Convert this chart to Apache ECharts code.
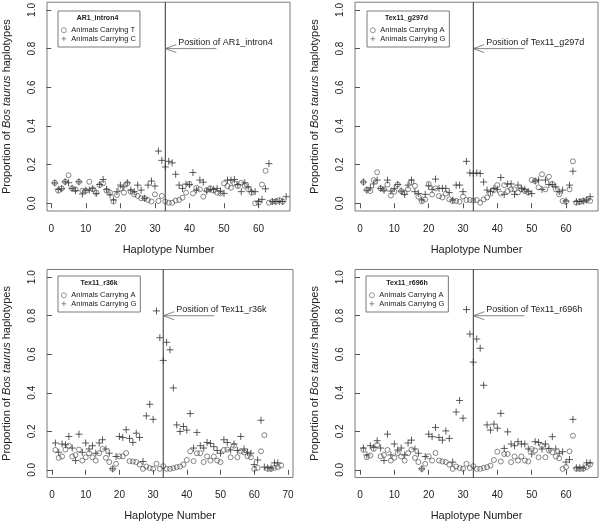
<!DOCTYPE html>
<html>
<head>
<meta charset="utf-8">
<script src="https://cdn.jsdelivr.net/npm/echarts@6/dist/echarts.min.js"></script>
<style>html,body{margin:0;padding:0;background:#fff;}#c{width:600px;height:523px;}</style>
</head>
<body>
<div id="c"></div>
<script>
// ---- data ----
const markerNames = ['AR1_intron4', 'Tex11_g297d', 'Tex11_r36k', 'Tex11_r696h'];
const circleNames = ['Animals Carrying T', 'Animals Carrying A', 'Animals Carrying A', 'Animals Carrying A'];
const plusNames = ['Animals Carrying C', 'Animals Carrying G', 'Animals Carrying G', 'Animals Carrying G'];
const markerPos = 33;      // haplotype number of the marker
const arrowY = 0.8;        // height of the arrow
const xTicks = [[0,10,20,30,40,50,60],[0,10,20,30,40,50,60],[0,10,20,30,40,50,60,70],[0,10,20,30,40,50,60]];
const yTicks = [0, 0.2, 0.4, 0.6, 0.8, 1.0];

const ar1Circle = [0.106,0.065,0.077,0.111,0.145,0.077,0.072,0.111,0.065,0.065,
 0.111,0.072,0.055,0.094,0.103,0.065,0.056,0.009,0.043,0.077,
 0.055,0.103,0.060,0.046,0.038,0.026,0.026,0.017,0.009,0.046,
 0.012,0.038,0.009,0.003,0.003,0.014,0.017,0.029,0.055,0.100,
 0.051,0.080,0.072,0.034,0.068,0.077,0.065,0.055,0.051,0.103,
 0.089,0.080,0.103,0.089,0.106,0.091,0.072,0.055,0.000,0.003,
 0.097,0.168,0.003,0.009,0.009,0.017,0.009];
const ar1Plus = [0.105,0.072,0.075,0.111,0.106,0.077,0.065,0.111,0.048,0.068,
 0.068,0.077,0.051,0.097,0.123,0.072,0.043,0.017,0.060,0.094,
 0.085,0.106,0.068,0.060,0.094,0.068,0.026,0.094,0.115,0.089,
 0.270,0.222,0.188,0.217,0.209,0.150,0.094,0.077,0.099,0.097,
 0.159,0.068,0.120,0.109,0.063,0.072,0.072,0.077,0.063,0.051,
 0.120,0.120,0.123,0.097,0.060,0.106,0.085,0.060,0.060,0.009,
 0.020,0.075,0.205,0.009,0.009,0.009,0.009,0.034];
const g297dCircle = [0.110,0.070,0.063,0.120,0.160,0.077,0.072,0.097,0.040,0.060,
 0.097,0.063,0.055,0.073,0.110,0.090,0.035,0.010,0.020,0.100,
 0.045,0.077,0.037,0.030,0.050,0.020,0.012,0.012,0.008,0.035,
 0.017,0.017,0.014,0.017,0.003,0.020,0.030,0.050,0.068,0.094,
 0.050,0.094,0.063,0.072,0.072,0.056,0.072,0.063,0.055,0.120,
 0.116,0.082,0.150,0.072,0.137,0.100,0.072,0.046,0.012,0.008,
 0.072,0.217,0.003,0.008,0.012,0.017,0.012];
const g297dPlus = [0.110,0.068,0.080,0.100,0.120,0.077,0.068,0.120,0.063,0.077,
 0.097,0.063,0.046,0.094,0.120,0.060,0.051,0.017,0.046,0.090,
 0.072,0.125,0.077,0.077,0.077,0.055,0.017,0.094,0.094,0.060,
 0.217,0.157,0.154,0.157,0.154,0.110,0.068,0.060,0.077,0.072,
 0.133,0.046,0.100,0.100,0.046,0.094,0.077,0.072,0.060,0.050,
 0.115,0.120,0.072,0.120,0.097,0.097,0.085,0.060,0.068,0.012,
 0.094,0.166,0.009,0.009,0.012,0.017,0.034];
const r36kCircle = [0.103,0.062,0.069,0.105,0.125,0.069,0.077,0.105,0.048,0.065,
 0.086,0.065,0.048,0.086,0.108,0.062,0.040,0.005,0.031,0.070,
 0.070,0.087,0.045,0.043,0.040,0.027,0.005,0.017,0.009,0.005,
 0.031,0.005,0.019,0.005,0.005,0.009,0.014,0.017,0.027,0.051,
 0.096,0.045,0.086,0.086,0.040,0.070,0.048,0.069,0.048,0.040,
 0.103,0.105,0.065,0.125,0.065,0.096,0.091,0.070,0.065,0.005,
 0.010,0.096,0.180,0.005,0.005,0.010,0.014,0.022];
const r36kPlus = [0.139,0.091,0.134,0.130,0.173,0.113,0.048,0.185,0.091,0.139,
 0.108,0.125,0.086,0.139,0.156,0.108,0.086,0.005,0.069,0.173,
 0.168,0.208,0.163,0.142,0.190,0.168,0.043,0.280,0.340,0.262,
 0.825,0.686,0.568,0.662,0.623,0.425,0.233,0.199,0.225,0.206,
 0.292,0.113,0.194,0.125,0.113,0.142,0.137,0.120,0.100,0.086,
 0.156,0.142,0.103,0.134,0.100,0.173,0.108,0.091,0.086,0.027,
 0.051,0.257,0.014,0.010,0.009,0.036,0.036];
const r696hCircle = [0.103,0.065,0.074,0.108,0.129,0.070,0.077,0.103,0.048,0.062,
 0.087,0.069,0.048,0.086,0.105,0.062,0.040,0.005,0.031,0.070,
 0.048,0.087,0.048,0.043,0.040,0.027,0.005,0.017,0.009,0.005,
 0.031,0.009,0.019,0.005,0.005,0.010,0.014,0.022,0.051,0.094,
 0.043,0.082,0.082,0.040,0.069,0.048,0.069,0.048,0.043,0.108,
 0.100,0.065,0.125,0.065,0.100,0.091,0.069,0.060,0.005,0.014,
 0.096,0.177,0.005,0.005,0.005,0.014,0.027];
const r696hPlus = [0.113,0.077,0.125,0.117,0.151,0.113,0.048,0.185,0.077,0.134,
 0.103,0.113,0.077,0.139,0.154,0.108,0.086,0.005,0.069,0.185,
 0.172,0.220,0.168,0.154,0.202,0.163,0.040,0.300,0.360,0.268,
 0.832,0.705,0.559,0.679,0.631,0.439,0.233,0.206,0.237,0.216,
 0.293,0.111,0.197,0.134,0.125,0.146,0.134,0.134,0.108,0.082,
 0.146,0.142,0.108,0.134,0.111,0.172,0.108,0.086,0.094,0.040,
 0.053,0.262,0.010,0.010,0.010,0.036,0.036];

const circleData = [ar1Circle, g297dCircle, r36kCircle, r696hCircle];
const plusData = [ar1Plus, g297dPlus, r36kPlus, r696hPlus];

// ---- layout ----
const FONT = '"Liberation Sans", Arial, Helvetica, sans-serif';
const panels = [
  {left: 47, top: 1, width: 243, height: 210, xmin: -1.25, xmax: 69.1, lg: {left: 58, top: 11}, title: [97.5, 18.5]},
  {left: 355, top: 1, width: 243, height: 210, xmin: -1.45, xmax: 69.3, lg: {left: 367, top: 11}, title: [406.5, 18]},
  {left: 47, top: 269.5, width: 246, height: 208, xmin: -1.48, xmax: 71.5, lg: {left: 58, top: 276}, title: [99, 283]},
  {left: 355, top: 269.5, width: 243, height: 208, xmin: -1.45, xmax: 69.3, lg: {left: 366, top: 276}, title: [407, 283]}
];
const PLUS = 'path://M0,5L10,5M5,0L5,10';

const grid = [], xAxis = [], yAxis = [], series = [], legend = [], graphic = [];
panels.forEach((p, i) => {
  grid.push({left: p.left, top: p.top, width: p.width, height: p.height, show: true,
    borderColor: '#7a7a7a', borderWidth: 1, backgroundColor: 'transparent'});
  xAxis.push({type: 'value', gridIndex: i, min: p.xmin, max: p.xmax,
    axisLine: {show: false}, splitLine: {show: false},
    axisTick: {show: true, customValues: xTicks[i], length: 5, lineStyle: {color: '#555', width: 1}},
    axisLabel: {customValues: xTicks[i], margin: 13, fontSize: 10, fontFamily: FONT, color: '#222'},
    name: 'Haplotype Number', nameLocation: 'middle', nameGap: 33,
    nameTextStyle: {fontSize: 11, fontFamily: FONT, color: '#222'}});
  yAxis.push({type: 'value', gridIndex: i, min: -0.04, max: 1.04,
    axisLine: {show: false}, splitLine: {show: false},
    axisTick: {show: true, customValues: yTicks, length: 5, lineStyle: {color: '#555', width: 1}},
    axisLabel: {customValues: yTicks, rotate: 90, margin: 10, fontSize: 10, fontFamily: FONT, color: '#222',
      formatter: v => v.toFixed(1)},
    name: '{a|Proportion of }{b|Bos taurus}{a| haplotypes}', nameLocation: 'middle', nameGap: 35, nameRotate: 90,
    nameTextStyle: {fontSize: 11, fontFamily: FONT, color: '#222',
      rich: {a: {fontSize: 11, fontFamily: FONT, color: '#222'}, b: {fontSize: 11, fontFamily: FONT, color: '#222', fontStyle: 'italic'}}}});
  series.push({type: 'scatter', name: circleNames[i], xAxisIndex: i, yAxisIndex: i,
    symbol: 'circle', symbolSize: 5,
    itemStyle: {color: 'rgba(0,0,0,0)', borderColor: '#444', borderWidth: 0.8},
    emphasis: {disabled: true},
    data: circleData[i].map((v, k) => [k + 1, v])});
  series.push({type: 'scatter', name: plusNames[i], xAxisIndex: i, yAxisIndex: i,
    symbol: PLUS, symbolSize: 7,
    itemStyle: {color: 'rgba(0,0,0,0)', borderColor: '#333', borderWidth: 1},
    emphasis: {disabled: true},
    data: plusData[i].map((v, k) => [k + 1, v])});
  series.push({type: 'custom', xAxisIndex: i, yAxisIndex: i, silent: true, z: 5,
    data: [[markerPos, arrowY]],
    renderItem: function (params, api) {
      const cs = params.coordSys;
      const tip = api.coord([api.value(0), api.value(1)]);
      const x = tip[0], y = tip[1];
      return {type: 'group', children: [
        {type: 'line', shape: {x1: x, y1: cs.y, x2: x, y2: cs.y + cs.height}, style: {stroke: '#333', lineWidth: 1}},
        {type: 'line', shape: {x1: x, y1: y, x2: x + 51, y2: y}, style: {stroke: '#666', lineWidth: 0.8}},
        {type: 'polyline', shape: {points: [[x + 11, y - 4], [x, y], [x + 11, y + 4]]}, style: {stroke: '#666', fill: null, lineWidth: 0.8}},
        {type: 'text', x: x + 13, y: y - 1.5, style: {text: 'Position of ' + markerNames[i], font: '9px ' + FONT, fill: '#222', align: 'left', verticalAlign: 'bottom'}}
      ]};
    }});
  legend.push({left: p.lg.left, top: p.lg.top, orient: 'vertical', selectedMode: false,
    padding: [15, 4, 4, 3], itemGap: 0, itemWidth: 5, itemHeight: 5,
    borderColor: '#7a7a7a', borderWidth: 1,
    itemStyle: {color: 'rgba(0,0,0,0)', borderColor: '#444', borderWidth: 0.7},
    textStyle: {fontSize: 7.5, fontFamily: FONT, color: '#222', lineHeight: 8.5},
    data: [circleNames[i], plusNames[i]]});
  graphic.push({type: 'text', x: p.title[0], y: p.title[1],
    style: {text: markerNames[i], font: 'bold 7px ' + FONT, fill: '#222', align: 'center', verticalAlign: 'middle'}});
});

const chart = echarts.init(document.getElementById('c'), null, {renderer: 'canvas'});
chart.setOption({animation: false, backgroundColor: '#fff', grid, xAxis, yAxis, series, legend, graphic});
</script>
</body>
</html>
